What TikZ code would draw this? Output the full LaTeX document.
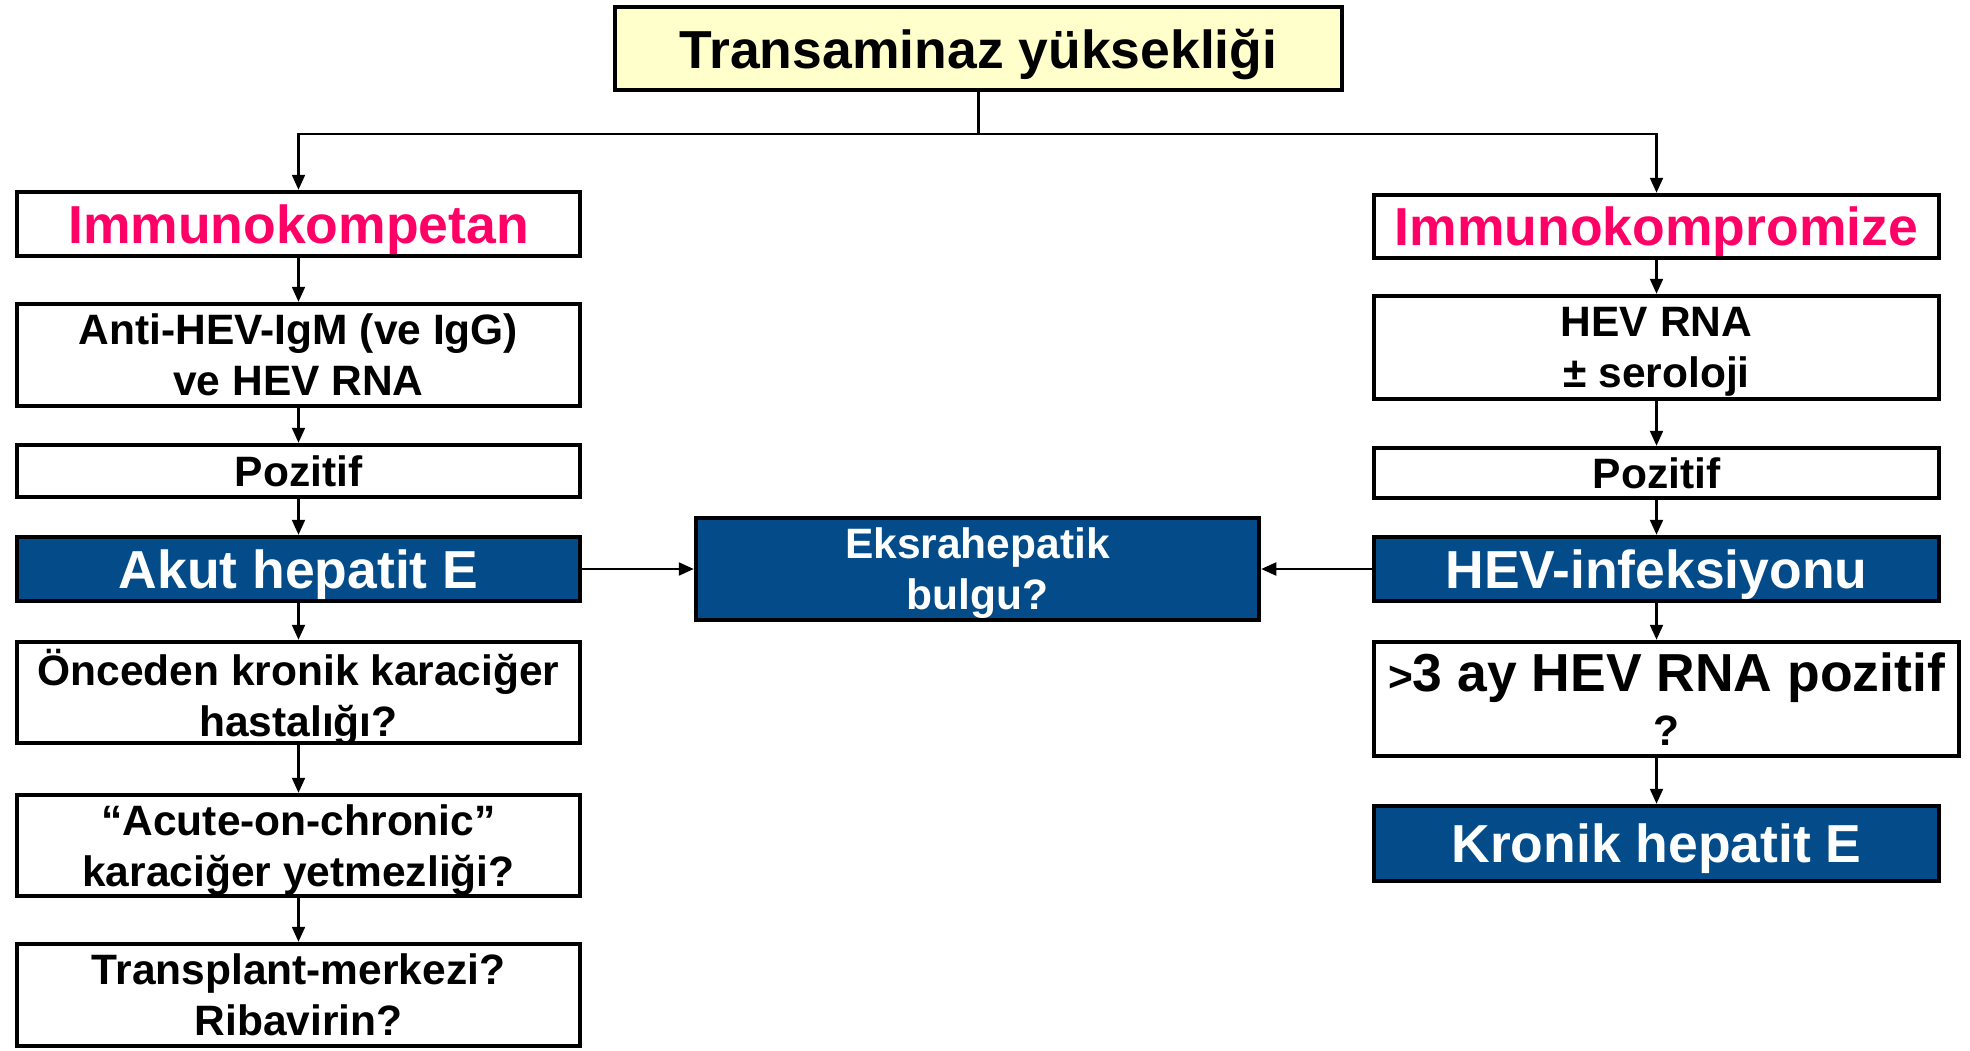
\documentclass[tikz,border=0pt]{standalone}
\usepackage{fontspec}
\setmainfont{Liberation Sans}
\usepackage{tikz}
\usetikzlibrary{arrows.meta}

\definecolor{hevblue}{RGB}{3,76,137}
\definecolor{hevyellow}{RGB}{255,255,204}
\definecolor{hevpink}{RGB}{255,0,102}

\newcommand{\bigtext}{\fontsize{53.5}{61}\selectfont\bfseries}
\newcommand{\midtext}{\fontsize{42.5}{51}\selectfont\bfseries}

\begin{document}
\begin{tikzpicture}[x=1pt,y=-1pt,
  box/.style={draw=black, line width=4.5pt, inner sep=0pt, align=center, fill=white, text depth=0pt},
  bluebox/.style={box, fill=hevblue, text=white},
  link/.style={line width=2.2pt, -{Triangle[length=15pt,width=13pt]}}]
  % page size of the slide
  \useasboundingbox (0,0) rectangle (1970,1050);

  \node[box, fill=hevyellow, minimum width=727pt, minimum height=83pt, font=\bigtext] (top) at (978.5,48.5) {Transaminaz yüksekliği};

  % left branch
  \node[box, minimum width=563pt, minimum height=64pt, font=\bigtext, text=hevpink] (kompetan) at (298.5,224) {Immunokompetan};
  \node[box, minimum width=563pt, minimum height=102pt, font=\midtext] (antihev) at (298.5,355) {Anti-HEV-IgM (ve IgG)\\ve HEV RNA};
  \node[box, minimum width=563pt, minimum height=52pt, font=\midtext] (pozleft) at (298.5,471) {Pozitif};
  \node[bluebox, minimum width=563pt, minimum height=64pt, font=\bigtext] (akut) at (298.5,569) {Akut hepatit E};
  \node[box, minimum width=563pt, minimum height=101pt, font=\midtext] (onceden) at (298.5,692.5) {Önceden kronik karaciğer\\hastalığı?};
  \node[box, minimum width=563pt, minimum height=101pt, font=\midtext] (acute) at (298.5,845.5) {“Acute-on-chronic”\\karaciğer yetmezliği?};
  \node[box, minimum width=563pt, minimum height=102pt, font=\midtext] (transplant) at (298.5,995) {Transplant-merkezi?\\Ribavirin?};

  % middle
  \node[bluebox, minimum width=563pt, minimum height=102pt, font=\midtext] (eks) at (977.5,569) {Eksrahepatik\\bulgu?};

  % right branch
  \node[box, minimum width=565pt, minimum height=63pt, font=\bigtext, text=hevpink] (kompr) at (1656.5,226.5) {Immunokompromize};
  \node[box, minimum width=565pt, minimum height=103pt, font=\midtext] (hevrna) at (1656.5,347.5) {HEV RNA\\± seroloji};
  \node[box, minimum width=565pt, minimum height=50pt, font=\midtext] (pozright) at (1656.5,473) {Pozitif};
  \node[bluebox, minimum width=565pt, minimum height=64pt, font=\bigtext] (hevinf) at (1656.5,569) {HEV-infeksiyonu};
  \node[box, minimum width=585pt, minimum height=114pt, font=\bigtext] (ay) at (1666.5,699) {{\midtext >}3 ay HEV RNA pozitif\\[-7pt]{\midtext ?}};
  \node[bluebox, minimum width=565pt, minimum height=75pt, font=\bigtext] (kronik) at (1656.5,843.5) {Kronik hepatit E};

  % arrows
  \coordinate (split) at (978.5,134);
  \draw[line width=2.2pt] (top) -- (split);
  \draw[link] (split) -| (kompetan);
  \draw[link] (split) -| (kompr);

  \draw[link] (kompetan) -- (antihev);
  \draw[link] (antihev) -- (pozleft);
  \draw[link] (pozleft) -- (akut);
  \draw[link] (akut) -- (onceden);
  \draw[link] (onceden) -- (acute);
  \draw[link] (acute) -- (transplant);

  \draw[link] (kompr) -- (hevrna);
  \draw[link] (hevrna) -- (pozright);
  \draw[link] (pozright) -- (hevinf);
  \draw[link] (hevinf.south) -- (hevinf.south |- ay.north);
  \draw[link] (hevinf.south |- ay.south) -- (hevinf.south |- kronik.north);

  \draw[link] (akut) -- (eks);
  \draw[link] (hevinf) -- (eks);

\end{tikzpicture}
\end{document}
